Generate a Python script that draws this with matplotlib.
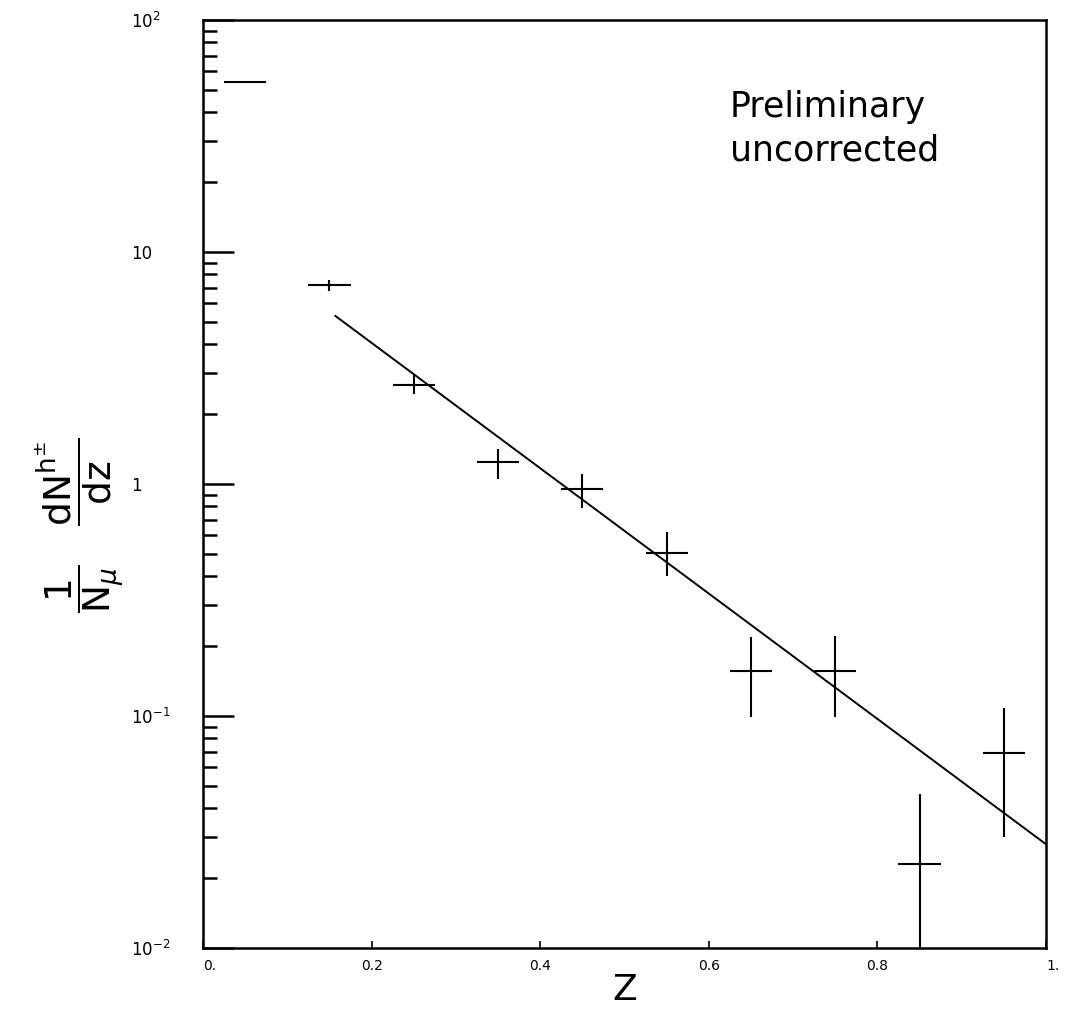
import numpy as np
import matplotlib.pyplot as plt

# values
z = [0.05, 0.15, 0.25, 0.35, 0.45, 0.55, 0.65, 0.75, 0.85, 0.95]
z_half = [0.025] * 10
dndz = [54.0, 7.2, 2.67, 1.24, 0.95, 0.505, 0.157, 0.156, 0.023, 0.069]
dndz_hi = [54.0, 7.6, 2.95, 1.42, 1.10, 0.62, 0.22, 0.222, 0.046, 0.108]
dndz_lo = [54.0, 6.8, 2.44, 1.05, 0.79, 0.40, 0.099, 0.0985, 0.005, 0.030]

# exponential fit line (straight on log scale)
fit_z = [0.157, 1.0]
fit_y = [5.3, 0.028]

y_ticks = [1e-2, 1e-1, 1, 10, 100]
y_ticklabels = [r'$10^{-2}$', r'$10^{-1}$', '1', '10', r'$10^{2}$']
x_ticks = [0, 0.2, 0.4, 0.6, 0.8, 1.0]
x_ticklabels = ['0.', '0.2', '0.4', '0.6', '0.8', '1.']

fig = plt.figure(figsize=(10.72, 10.09), dpi=100)
ax = fig.add_axes([0.1894, 0.0605, 0.7863, 0.9197])

y = np.array(dndz)
yerr = [y - np.array(dndz_lo), np.array(dndz_hi) - y]
ax.errorbar(z, dndz, xerr=z_half, yerr=yerr, fmt='none', ecolor='black',
            elinewidth=1.5, capsize=0)
ax.plot(fit_z, fit_y, color='black', lw=1.4)

ax.set_yscale('log')
ax.set_xlim(0, 1)
ax.set_ylim(1e-2, 1e2)

for s in ax.spines.values():
    s.set_linewidth(1.8)

ax.set_yticks(y_ticks)
ax.set_yticklabels(y_ticklabels)
ax.yaxis.set_minor_locator(plt.LogLocator(base=10, subs=np.arange(2, 10)))
ax.yaxis.set_minor_formatter(plt.NullFormatter())
ax.tick_params(axis='y', which='major', direction='in', length=22, width=1.8,
               pad=52, labelsize=12, right=False)
ax.tick_params(axis='y', which='minor', direction='in', length=10, width=1.8,
               right=False)
for lbl in ax.get_yticklabels():
    lbl.set_ha('left')

ax.set_xticks(x_ticks)
ax.set_xticklabels(x_ticklabels)
ax.tick_params(axis='x', which='both', direction='in', length=5, width=1.2,
               pad=8, labelsize=10, top=False)
xl = ax.get_xticklabels()
xl[0].set_ha('left')
xl[-1].set_ha('left')

ax.set_xlabel('Z', fontsize=26, labelpad=0)

fig.text(80 / 1072, 1 - 525 / 1009,
         r'$\dfrac{\mathrm{1}}{\mathrm{N}_{\mu}}\quad\dfrac{\mathrm{dN}^{\mathrm{h}^{\pm}}}{\mathrm{dz}}$',
         rotation=90, ha='center', va='center', fontsize=27)

ax.text(0.625, 0.925, 'Preliminary\nuncorrected', transform=ax.transAxes,
        ha='left', va='top', fontsize=25, linespacing=1.35)

fig.savefig('out.png', dpi=100)
